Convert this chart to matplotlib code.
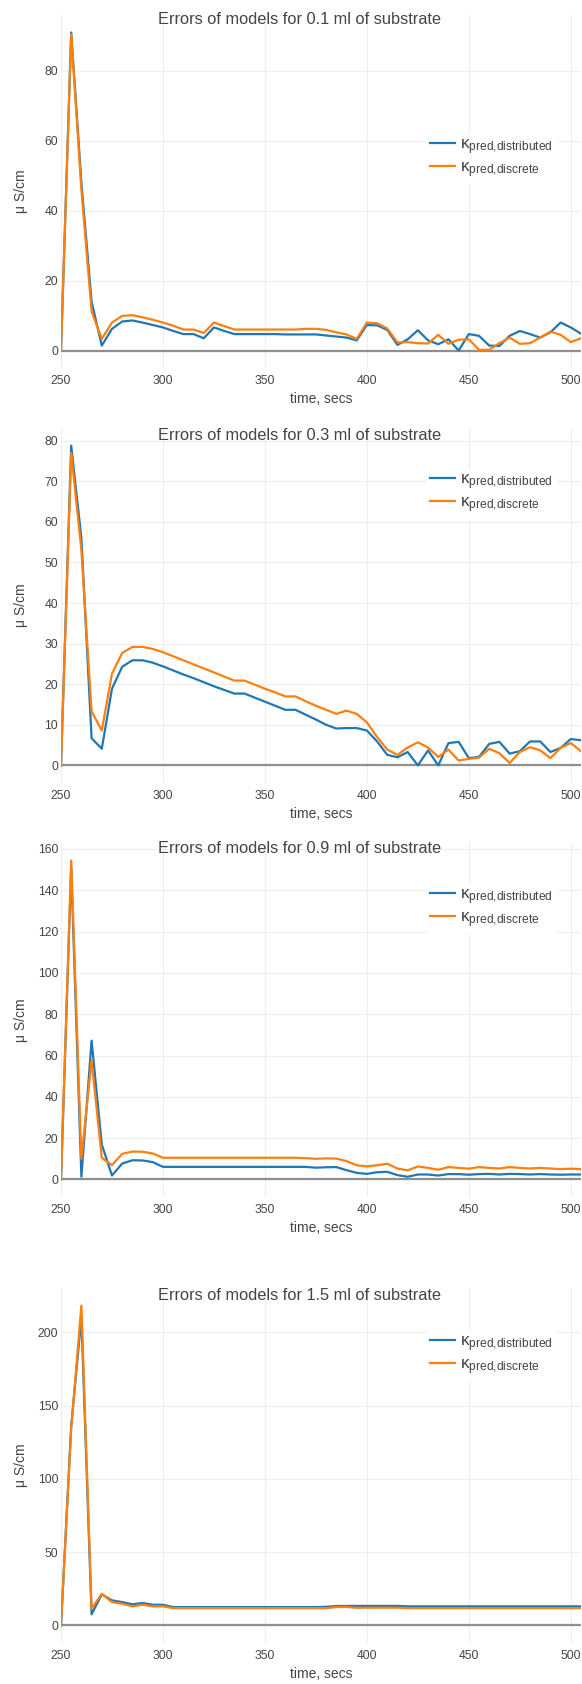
import matplotlib
matplotlib.use('Agg')
import matplotlib.pyplot as plt
from matplotlib.ticker import MultipleLocator

plt.rcParams['font.family'] = ['Liberation Sans', 'DejaVu Sans']
plt.rcParams['mathtext.fontset'] = 'custom'
plt.rcParams['mathtext.rm'] = 'Liberation Sans'
plt.rcParams['mathtext.it'] = 'Liberation Sans:italic'
plt.rcParams['mathtext.bf'] = 'Liberation Sans:bold'

# ---------------- data ----------------
time_secs = [250, 255, 260, 265, 270, 275, 280, 285, 290, 295,
             300, 305, 310, 315, 320, 325, 330, 335, 340, 345,
             350, 355, 360, 365, 370, 375, 380, 385, 390, 395,
             400, 405, 410, 415, 420, 425, 430, 435, 440, 445,
             450, 455, 460, 465, 470, 475, 480, 485, 490, 495,
             500, 505]

volumes = ['0.1', '0.3', '0.9', '1.5']
series_names = [r'$\mathregular{κ_{pred{,}distributed}}$',
                r'$\mathregular{κ_{pred{,}discrete}}$']

dist_01 = [0, 91, 48, 14, 1.4, 6.2, 8.3, 8.6, 8.0, 7.3,
           6.6, 5.6, 4.7, 4.7, 3.5, 6.6, 5.6, 4.7, 4.7, 4.7,
           4.7, 4.7, 4.6, 4.6, 4.6, 4.6, 4.3, 4.0, 3.7, 2.9,
           7.3, 7.2, 5.9, 1.6, 3.2, 5.8, 2.9, 1.8, 3.2, 0.0,
           4.7, 4.2, 1.4, 1.3, 4.2, 5.6, 4.7, 3.7, 5.2, 8.0,
           6.6, 4.8]
disc_01 = [0, 90.5, 46, 11.2, 3.3, 8.0, 9.9, 10.1, 9.5, 8.8,
           8.0, 7.1, 6.0, 6.0, 5.0, 8.0, 7.0, 6.0, 6.0, 6.0,
           6.0, 6.0, 6.0, 6.0, 6.2, 6.2, 5.9, 5.2, 4.6, 3.3,
           8.0, 7.8, 6.3, 2.3, 2.4, 2.1, 2.0, 4.5, 1.9, 3.1,
           3.2, 0.2, 0.2, 2.1, 3.7, 1.9, 2.1, 3.7, 5.4, 4.5,
           2.4, 3.5]

dist_03 = [0, 78.8, 56, 6.7, 4.1, 18.9, 24.3, 25.9, 25.9, 25.3,
           24.4, 23.4, 22.4, 21.5, 20.5, 19.5, 18.6, 17.7, 17.7, 16.7,
           15.7, 14.7, 13.7, 13.7, 12.5, 11.3, 10.0, 9.1, 9.2, 9.2,
           8.6, 5.9, 2.6, 2.0, 3.3, 0.0, 3.7, 0.0, 5.5, 5.8,
           1.8, 2.1, 5.3, 5.8, 2.9, 3.5, 5.9, 5.9, 3.3, 4.3,
           6.5, 6.2]
disc_03 = [0, 77.0, 53, 13.3, 8.6, 22.6, 27.7, 29.2, 29.2, 28.7,
           27.9, 26.9, 25.9, 24.9, 23.9, 22.9, 21.9, 20.9, 20.9, 19.9,
           18.9, 18.0, 17.0, 17.0, 15.8, 14.7, 13.7, 12.7, 13.5, 12.7,
           10.6, 7.0, 3.9, 2.6, 4.4, 5.7, 4.4, 2.1, 3.9, 1.2,
           1.6, 1.9, 4.1, 3.0, 0.6, 3.3, 4.5, 3.7, 1.8, 4.3,
           5.5, 3.5]

dist_09 = [0, 151, 1.3, 67.2, 16.9, 1.9, 7.7, 9.3, 9.2, 8.4,
           6.1, 6.1, 6.1, 6.1, 6.1, 6.1, 6.1, 6.1, 6.1, 6.1,
           6.1, 6.1, 6.1, 6.1, 6.1, 5.7, 5.9, 6.0, 4.5, 3.2,
           2.7, 3.5, 3.7, 2.1, 1.3, 2.4, 2.4, 1.9, 2.6, 2.6,
           2.3, 2.6, 2.7, 2.4, 2.7, 2.6, 2.4, 2.6, 2.4, 2.3,
           2.4, 2.4]
disc_09 = [0, 154.4, 10, 57.7, 10.5, 6.9, 12.4, 13.5, 13.4, 12.6,
           10.5, 10.5, 10.5, 10.5, 10.5, 10.5, 10.5, 10.5, 10.5, 10.5,
           10.5, 10.5, 10.5, 10.5, 10.3, 10.0, 10.2, 10.1, 8.9, 6.9,
           6.3, 6.9, 7.6, 5.3, 4.4, 6.3, 5.6, 4.7, 6.0, 5.6,
           5.2, 6.0, 5.6, 5.3, 6.0, 5.6, 5.3, 5.6, 5.3, 5.0,
           5.2, 5.0]

dist_15 = [0, 136, 210, 7.5, 21.2, 17.1, 15.9, 14.4, 15.3, 14.1,
           14.1, 12.5, 12.5, 12.5, 12.5, 12.5, 12.5, 12.5, 12.5, 12.5,
           12.5, 12.5, 12.5, 12.5, 12.5, 12.5, 12.7, 13.2, 13.3, 13.3,
           13.3, 13.3, 13.3, 13.3, 13.0, 13.0, 13.0, 13.0, 13.0, 13.0,
           13.0, 13.0, 13.0, 13.0, 13.0, 13.0, 13.0, 13.0, 13.0, 13.0,
           13.0, 13.0]
disc_15 = [0, 134, 218.2, 11.4, 21.6, 15.9, 14.8, 13.0, 14.1, 13.0,
           13.0, 11.8, 11.8, 11.8, 11.8, 11.8, 11.8, 11.8, 11.8, 11.8,
           11.8, 11.8, 11.8, 11.8, 11.8, 11.8, 11.8, 12.5, 12.6, 12.0,
           12.1, 12.1, 12.1, 12.1, 11.8, 11.8, 11.8, 11.8, 11.8, 11.8,
           11.8, 11.8, 11.8, 11.8, 11.8, 11.8, 11.8, 11.8, 11.8, 11.8,
           11.8, 11.8]

distributed = [dist_01, dist_03, dist_09, dist_15]
discrete = [disc_01, disc_03, disc_09, disc_15]
y_steps = [20, 10, 20, 50]

# ---------------- layout (pixels) ----------------
W, H = 582, 1684
LEFT, RIGHT = 61, 581
panel_tb = [(15, 368), (428, 783), (843, 1197), (1288, 1643)]
title_y = [20, 435, 849, 1296]
legend_top = [134, 469, 884, 1331]
LEG_LEFT = 427
TEXT = '#444444'
BLUE, ORANGE = '#1f77b4', '#ff7f0e'

fig = plt.figure(figsize=(W / 100, H / 100), dpi=100)
fig.patch.set_facecolor('white')

for i in range(4):
    top, bot = panel_tb[i]
    ax = fig.add_axes([LEFT / W, 1 - bot / H, (RIGHT - LEFT) / W, (bot - top) / H])
    ax.set_facecolor('white')
    ax.axhline(0, color='#8f8f8f', lw=1.6, zorder=1.5)
    l1, = ax.plot(time_secs, distributed[i], color=BLUE, lw=1.6, zorder=3,
                  solid_joinstyle='round')
    l2, = ax.plot(time_secs, discrete[i], color=ORANGE, lw=1.6, zorder=4,
                  solid_joinstyle='round')
    ax.set_xlim(time_secs[0], time_secs[-1])
    ymax = max(max(distributed[i]), max(discrete[i]))
    pad = 0.055 * ymax
    ax.set_ylim(-pad, ymax + pad)
    ax.xaxis.set_major_locator(MultipleLocator(50))
    ax.yaxis.set_major_locator(MultipleLocator(y_steps[i]))
    ax.grid(True, color='#eeeeee', lw=0.8, zorder=0)
    ax.set_axisbelow(True)
    ax.get_xgridlines()[0].set_visible(False)
    for s in ax.spines.values():
        s.set_visible(False)
    ax.tick_params(length=0, labelsize=8.7, colors=TEXT)
    ax.tick_params(axis='x', pad=5)
    ax.tick_params(axis='y', pad=2)
    ax.set_yticks([t for t in ax.get_yticks() if 0 <= t <= ymax + pad])

    ax.text(0.5, -31 / (bot - top), 'time, secs', transform=ax.transAxes,
            ha='center', va='center', fontsize=10, color=TEXT)
    ax.text(-40 / (RIGHT - LEFT), 0.5, 'μ S/cm', transform=ax.transAxes,
            ha='center', va='center', rotation=90, fontsize=10, color=TEXT)
    fig.text(300 / W, 1 - title_y[i] / H,
             f'Errors of models for {volumes[i]} ml of substrate',
             ha='center', va='center', fontsize=11.8, color=TEXT)

    leg = ax.legend([l1, l2], series_names, loc='upper left',
                    bbox_to_anchor=(LEG_LEFT / W, 1 - legend_top[i] / H),
                    bbox_transform=fig.transFigure, fontsize=12.3,
                    frameon=True, fancybox=False, framealpha=1,
                    edgecolor='white', facecolor='white',
                    handlelength=1.45, handletextpad=0.28, borderpad=0.2,
                    labelspacing=0.18, borderaxespad=0)
    for t in leg.get_texts():
        t.set_color(TEXT)

fig.savefig('out.png', dpi=100, facecolor='white')
